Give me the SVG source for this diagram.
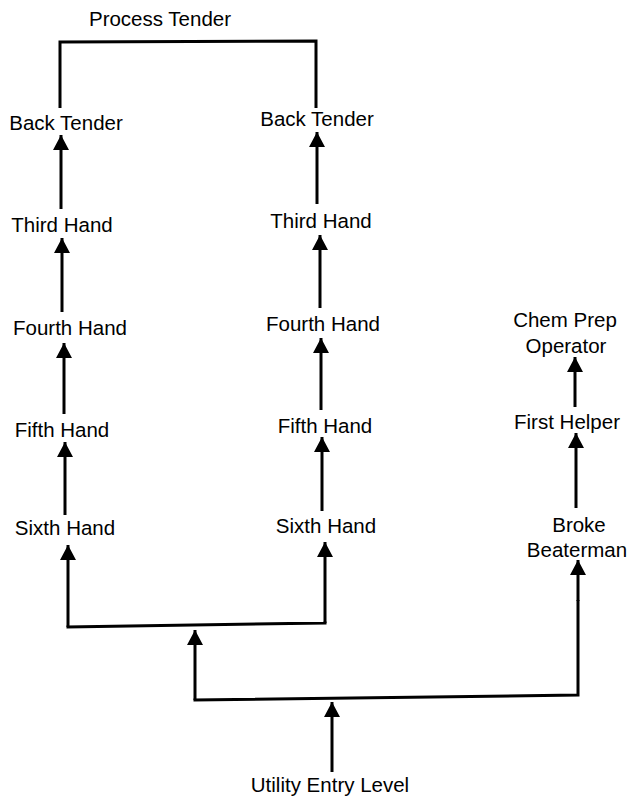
<svg xmlns="http://www.w3.org/2000/svg" width="635" height="796" viewBox="0 0 635 796">
<style>
text{font-family:"Liberation Sans",Arial,sans-serif;font-size:20.5px;fill:#000;text-anchor:middle}
.c line,.c polyline{stroke:#000;stroke-width:3;fill:none}
</style>
<defs>
<marker id="ah" viewBox="0 0 15 16" refX="15" refY="8" markerWidth="15" markerHeight="16" markerUnits="userSpaceOnUse" orient="auto">
<path d="M0,0 L15,8 L0,16 z" fill="#000"/>
</marker>
</defs>
<rect width="635" height="796" fill="#fff"/>
<g class="c" id="connectors">
<polyline points="60,108 60,42 316,41 316,108"/>
<line x1="61" y1="209" x2="61" y2="135" marker-end="url(#ah)"/>
<line x1="62" y1="312" x2="62" y2="238" marker-end="url(#ah)"/>
<line x1="64" y1="414" x2="64" y2="343" marker-end="url(#ah)"/>
<line x1="65" y1="515" x2="65" y2="442" marker-end="url(#ah)"/>
<line x1="68" y1="627" x2="68" y2="545" marker-end="url(#ah)"/>
<line x1="317" y1="204" x2="317" y2="132" marker-end="url(#ah)"/>
<line x1="320" y1="308" x2="320" y2="235" marker-end="url(#ah)"/>
<line x1="321" y1="410" x2="321" y2="338" marker-end="url(#ah)"/>
<line x1="322" y1="511" x2="322" y2="437" marker-end="url(#ah)"/>
<line x1="325" y1="623" x2="325" y2="542" marker-end="url(#ah)"/>
<polyline points="66.5,627 325,623 325,621.5"/>
<line x1="195" y1="700" x2="195" y2="630" marker-end="url(#ah)"/>
<polyline points="193.5,700 578,695 578,600"/>
<line x1="578" y1="601" x2="578" y2="560" marker-end="url(#ah)"/>
<line x1="575" y1="407" x2="575" y2="357" marker-end="url(#ah)"/>
<line x1="576" y1="508" x2="576" y2="433" marker-end="url(#ah)"/>
<line x1="332" y1="772" x2="332" y2="702" marker-end="url(#ah)"/>
</g>
<g id="process-tender"><text x="160" y="26">Process Tender</text></g>
<g id="back-tender-1"><text x="66" y="130">Back Tender</text></g>
<g id="third-hand-1"><text x="62" y="232">Third Hand</text></g>
<g id="fourth-hand-1"><text x="70" y="335">Fourth Hand</text></g>
<g id="fifth-hand-1"><text x="62" y="437">Fifth Hand</text></g>
<g id="sixth-hand-1"><text x="65" y="535">Sixth Hand</text></g>
<g id="back-tender-2"><text x="317" y="126">Back Tender</text></g>
<g id="third-hand-2"><text x="321" y="228">Third Hand</text></g>
<g id="fourth-hand-2"><text x="323" y="331">Fourth Hand</text></g>
<g id="fifth-hand-2"><text x="325" y="433">Fifth Hand</text></g>
<g id="sixth-hand-2"><text x="326" y="533">Sixth Hand</text></g>
<g id="chem-prep-operator"><text x="565" y="327">Chem Prep</text><text x="566" y="353">Operator</text></g>
<g id="first-helper"><text x="567" y="429">First Helper</text></g>
<g id="broke-beaterman"><text x="579" y="532">Broke</text><text x="577" y="557">Beaterman</text></g>
<g id="utility-entry-level"><text x="330" y="792">Utility Entry Level</text></g>
</svg>
